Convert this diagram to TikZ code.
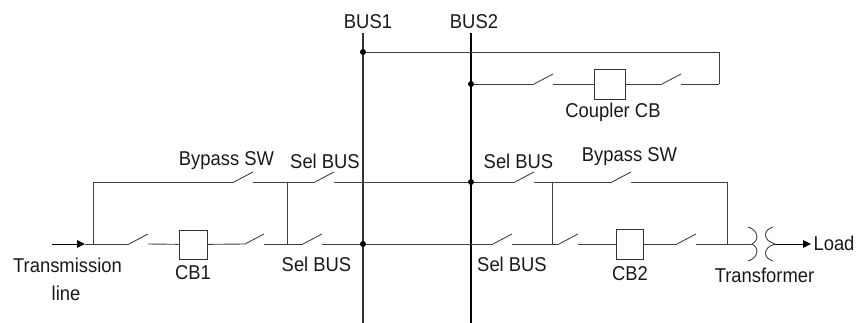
\documentclass[tikz,border=0pt]{standalone}
\usepackage{fontspec}
\setmainfont[FakeStretch=0.92]{Liberation Sans}
\usetikzlibrary{
  arrows.meta,
  chains,
  positioning,
  scopes
}
% the three points of one open switch: (#1a) hinge, (#1t) blade tip, (#1b) far contact
\newcommand{\switchpts}[3]{
  \coordinate (#1a) at (#2,#3);
  \coordinate (#1t) at (#2+19,#3-10);
  \coordinate (#1b) at (#2+19,#3);
}
\begin{document}
\begin{tikzpicture}[
      x=1pt,y=-1pt,
      breaker/.style={
         rectangle,
         draw=black!80,
         line width=0.8pt,
         fill=white,
         inner sep=0pt
      },
      label/.style={
         inner sep=0pt,
         text=black!90,
         font=\fontsize{20}{22}\selectfont
      },
      busdot/.style={
         circle,
         fill=black,
         inner sep=0pt,
         minimum size=6pt
      },
      wire/.style={draw=black!75,line width=0.9pt},
      tip/.style={draw=black,line width=0.9pt,-{Stealth[length=8pt,width=7.5pt,inset=0pt]},shorten >=0pt},
      busone/.style={draw=black!80,line width=1.3pt},
      bustwo/.style={draw=black,line width=1.7pt}
    ]
    \useasboundingbox (0,0) rectangle (857,323);

    % buses
    \coordinate (bus1top) at (363,33);
    \coordinate (bus1bot) at (363,323);
    \coordinate (bus2top) at (471,33);
    \coordinate (bus2bot) at (471,323);
    \draw[busone] (bus1top) -- (bus1bot);
    \draw[bustwo] (bus2top) -- (bus2bot);
    \node (dot1) [busdot] at (363,52) {};
    \node (dot2) [busdot] at (471,84) {};
    \node (dot3) [busdot] at (363,244) {};
    \node (dot4) [busdot] at (471,182) {};

    % switches
    \switchpts{cpa}{534}{84}
    \switchpts{cpb}{662}{84}
    \switchpts{tl}{234}{182}
    \switchpts{tm}{315}{182}
    \switchpts{tn}{515}{182}
    \switchpts{tr}{612}{182}
    \switchpts{la}{129}{244}
    \switchpts{lb}{245}{244}
    \switchpts{lc}{303}{244}
    \switchpts{ld}{493}{244}
    \switchpts{le}{559}{244}
    \switchpts{lf}{677}{244}
    \foreach \sw in {cpa,cpb,tl,tm,tn,tr,la,lb,lc,ld,le,lf}
       \draw[wire] (\sw a) -- (\sw t);

    % breakers
    \node (cplr) [breaker, minimum width=31pt, minimum height=30pt] at (609.5,84) {};
    \node (cb1) [breaker, minimum width=28pt, minimum height=29pt] at (193,244.5) {};
    \node (cb2) [breaker, minimum width=27pt, minimum height=30pt] at (629.5,244) {};

    % corner and junction points
    \coordinate (cpr1) at (719,52);
    \coordinate (cpr2) at (719,84);
    \coordinate (linein) at (52,244);
    \coordinate (linetip) at (85,244);
    \coordinate (lj) at (93,244);
    \coordinate (lc1) at (93,182);
    \coordinate (jl1) at (287,182);
    \coordinate (jl2) at (287,244);
    \coordinate (jr1) at (552,182);
    \coordinate (jr2) at (552,244);
    \coordinate (rc1) at (727,182);
    \coordinate (rj) at (727,244);
    \coordinate (xfl) at (752,244);
    \coordinate (xfr) at (775,244);
    \coordinate (loadtip) at (811,244);

  { [start chain]
       \chainin (dot1);
       \chainin (cpr1)    [join=by wire];
       \chainin (cpr2)    [join=by wire];
       \chainin (cpbb)    [join=by wire];
  }
  { [start chain]
       \chainin (cpba);
       \chainin (cplr)    [join=by wire];
       \chainin (cpab)    [join=by wire];
  }
  { [start chain]
       \chainin (cpaa);
       \chainin (dot2)    [join=by wire];
  }
  { [start chain]
       \chainin (linein);
       \chainin (linetip) [join=by tip];
  }
  { [start chain]
       \chainin (linetip);
       \chainin (lj)      [join=by wire];
       \chainin (laa)     [join=by wire];
  }
  { [start chain]
       \chainin (lab);
       \chainin (cb1)     [join=by wire];
       \chainin (lba)     [join=by wire];
  }
  { [start chain]
       \chainin (lbb);
       \chainin (lca)     [join=by wire];
  }
  { [start chain]
       \chainin (lcb);
       \chainin (dot3)    [join=by wire];
       \chainin (lda)     [join=by wire];
  }
  { [start chain]
       \chainin (ldb);
       \chainin (lea)     [join=by wire];
  }
  { [start chain]
       \chainin (leb);
       \chainin (cb2)     [join=by wire];
       \chainin (lfa)     [join=by wire];
  }
  { [start chain]
       \chainin (lfb);
       \chainin (xfl)     [join=by wire];
  }
  { [start chain]
       \chainin (xfr);
       \chainin (loadtip) [join=by tip];
  }
  { [start chain]
       \chainin (lj);
       \chainin (lc1)     [join=by wire];
       \chainin (tla)     [join=by wire];
  }
  { [start chain]
       \chainin (tlb);
       \chainin (tma)     [join=by wire];
  }
  { [start chain]
       \chainin (tmb);
       \chainin (dot4)    [join=by wire];
       \chainin (tna)     [join=by wire];
  }
  { [start chain]
       \chainin (tnb);
       \chainin (tra)     [join=by wire];
  }
  { [start chain]
       \chainin (trb);
       \chainin (rc1)     [join=by wire];
       \chainin (rj)      [join=by wire];
  }
  { [start chain]
       \chainin (jl1);
       \chainin (jl2)     [join=by wire];
  }
  { [start chain]
       \chainin (jr1);
       \chainin (jr2)     [join=by wire];
  }

    % transformer windings
    \draw[wire] (748,227) .. controls (758,230) and (760,240) .. (xfl);
    \draw[wire] (748,261) .. controls (758,258) and (760,248) .. (xfl);
    \draw[wire] (773,227) .. controls (763,230) and (762,240) .. (xfr);
    \draw[wire] (773,261) .. controls (763,258) and (762,248) .. (xfr);

    % labels
    \node (lbus1) [label] at (368,22) {BUS1};
    \node (lbus2) [label] at (474,22) {BUS2};
    \node (lcplr) [label] at (613,112) {Coupler CB};
    \node (lbyp1) [label] at (226.5,161) {Bypass SW};
    \node (lsel1) [label] at (325,161) {Sel BUS};
    \node (lsel2) [label] at (518.5,161) {Sel BUS};
    \node (lbyp2) [label] at (629.5,157) {Bypass SW};
    \node (lsel3) [label] at (316.5,264) {Sel BUS};
    \node (lsel4) [label] at (512,264) {Sel BUS};
    \node (ltran) [label] at (67.5,265) {Transmission};
    \node (lline) [label] at (66,293) {line};
    \node (lcb1) [label] at (193,273) {CB1};
    \node (lcb2) [label] at (630,274) {CB2};
    \node (lxfmr) [label] at (764.5,275) {Transformer};
    \node (lload) [label] at (834,243) {Load};
\end{tikzpicture}
\end{document}
